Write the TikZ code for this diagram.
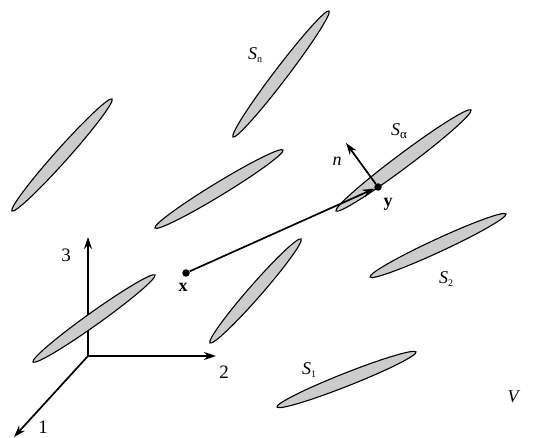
\documentclass[tikz,border=0pt]{standalone}
\usepackage{fontspec}
\setmainfont{Liberation Serif}
\usetikzlibrary{arrows.meta,calc}
\tikzset{
  lens/.style={draw=black,fill=black!20,line width=1.1pt},
  axisline/.style={line width=1.7pt,-{Stealth[length=12pt,width=8pt]}},
  dotmark/.style={circle,fill=black,inner sep=0pt,minimum size=7.5pt},
  lab/.style={inner sep=0pt,font=\fontsize{18}{18}\selectfont},
  biglab/.style={inner sep=0pt,font=\fontsize{19}{19}\selectfont}
}
\newcommand{\lensdraw}[5]{% x1 y1 x2 y2 halfwidth
  \pgfmathsetmacro{\lcx}{(#1+#3)/2}
  \pgfmathsetmacro{\lcy}{(#2+#4)/2}
  \pgfmathsetmacro{\lang}{atan2(#2-#4,#3-#1)}
  \pgfmathsetmacro{\lhalf}{veclen(#3-#1,#4-#2)/2}
  \draw[lens,shift={(\lcx,\lcy)},rotate=\lang] (0,0) ellipse ({\lhalf pt} and {#5 pt});
}
\begin{document}
\begin{tikzpicture}[x=1pt,y=-1pt]
\useasboundingbox (0,0) rectangle (552,438);
\coordinate (o) at (88,356);
\coordinate (e3) at (88,237);
\coordinate (e2) at (216,356);
\coordinate (e1) at (14,437);
\draw[axisline] (o) -- (e3);
\draw[axisline] (o) -- (e2);
\draw[axisline] (o) -- (e1);
\lensdraw{233}{137}{329}{11}{6.5}
\lensdraw{12}{211}{112}{99}{6.5}
\lensdraw{155}{228}{283}{150}{6.5}
\lensdraw{336}{211}{471}{110}{7}
\lensdraw{370}{277}{506}{214}{6.5}
\lensdraw{210}{343}{301}{239}{6.5}
\lensdraw{277}{407}{416}{352}{6.5}
\lensdraw{33}{362}{155}{275}{6.5}
\node[dotmark] (x) at (186,273) {};
\node[dotmark] (y) at (378,187) {};
\coordinate (ntip) at (346,143);
\draw[axisline] (x) -- (y);
\draw[axisline] (y) -- (ntip);
\node[lab] (lx) at (183,287) {\textbf{x}};
\node[lab] (ly) at (388,204) {\textbf{y}};
\node[lab] (ln) at (337,161) {\textit{n}};
\node[biglab] (l3) at (66,255) {3};
\node[biglab] (l2) at (224,372) {2};
\node[biglab] (l1) at (43,427) {1};
\node[lab] (lV) at (514,397) {\textit{V}};
\node[lab] (sn) at (255,55) {\textit{S}\raisebox{-3pt}{\fontsize{10}{10}\selectfont n}};
\node[lab] (sa) at (399,131) {\textit{S}\raisebox{-3pt}{\fontsize{13}{13}\selectfont α}};
\node[lab] (s2) at (446,279) {\textit{S}\raisebox{-3pt}{\fontsize{10}{10}\selectfont 2}};
\node[lab] (s1) at (309,370) {\textit{S}\raisebox{-3pt}{\fontsize{10}{10}\selectfont 1}};
\end{tikzpicture}
\end{document}
